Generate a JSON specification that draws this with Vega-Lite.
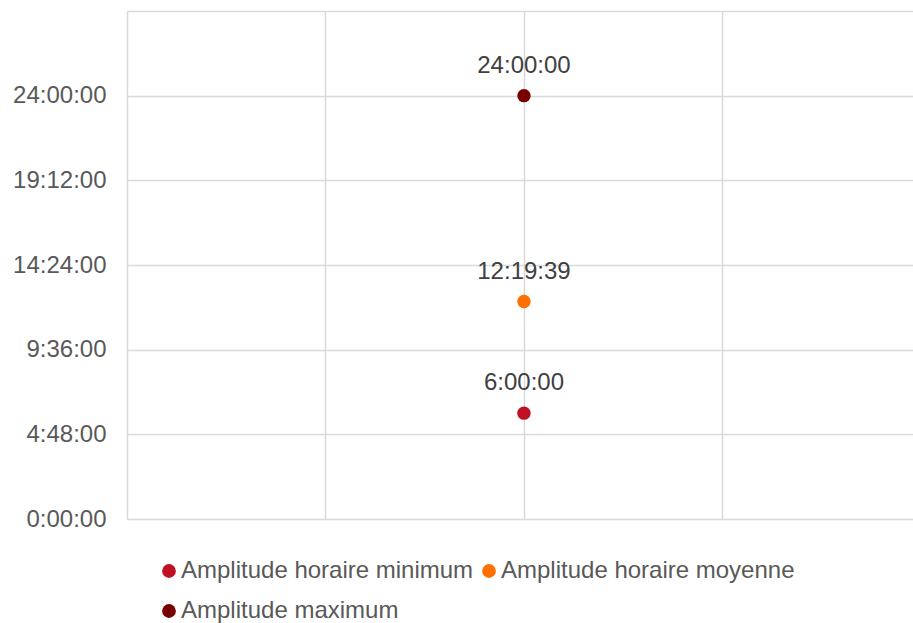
{
  "$schema": "https://vega.github.io/schema/vega-lite/v6.json",
  "width": 786,
  "height": 508,
  "autosize": {"type": "none"},
  "padding": {"left": 127, "top": 11, "right": 0, "bottom": 104},
  "background": "white",
  "config": {
    "view": {"stroke": null},
    "font": "Liberation Sans"
  },
  "data": {
    "values": [
      {"x": 1, "hours": 6.0, "label": "6:00:00", "serie": "Amplitude horaire minimum"},
      {"x": 1, "hours": 12.3275, "label": "12:19:39", "serie": "Amplitude horaire moyenne"},
      {"x": 1, "hours": 24.0, "label": "24:00:00", "serie": "Amplitude maximum"}
    ]
  },
  "encoding": {
    "x": {
      "field": "x",
      "type": "quantitative",
      "scale": {"domain": [0, 1.98], "nice": false, "zero": false},
      "axis": {
        "values": [0, 0.5, 1, 1.5],
        "labels": false,
        "ticks": false,
        "domain": false,
        "title": null,
        "grid": true,
        "gridColor": "#d9d9d9",
        "gridWidth": 1.5
      }
    },
    "y": {
      "field": "hours",
      "type": "quantitative",
      "scale": {"domain": [0, 28.8], "nice": false},
      "axis": {
        "values": [0, 4.8, 9.6, 14.4, 19.2, 24, 28.8],
        "labelExpr": "datum.value > 25 ? '' : floor(round(datum.value*3600)/3600) + ':' + (floor((round(datum.value*3600)%3600)/60) < 10 ? '0' : '') + floor((round(datum.value*3600)%3600)/60) + ':' + (round(datum.value*3600)%60 < 10 ? '0' : '') + round(datum.value*3600)%60",
        "ticks": false,
        "domain": false,
        "title": null,
        "grid": true,
        "gridColor": "#d9d9d9",
        "gridWidth": 1.5,
        "labelFontSize": 24,
        "labelColor": "#595959",
        "labelPadding": 21,
        "labelFont": "Liberation Sans"
      }
    }
  },
  "layer": [
    {
      "mark": {"type": "circle", "size": 180, "opacity": 1},
      "encoding": {
        "color": {
          "field": "serie",
          "type": "nominal",
          "scale": {
            "domain": ["Amplitude horaire minimum", "Amplitude horaire moyenne", "Amplitude maximum"],
            "range": ["#BE1020", "#FF7000", "#780000"]
          },
          "legend": {
            "title": null,
            "orient": "none",
            "legendX": 30,
            "legendY": 548,
            "direction": "horizontal",
            "columns": 2,
            "columnPadding": 3,
            "rowPadding": 16,
            "symbolType": "circle",
            "symbolSize": 190,
            "symbolOpacity": 1,
            "labelFontSize": 24,
            "labelColor": "#595959",
            "labelFont": "Liberation Sans",
            "labelOffset": 0,
            "labelLimit": 500
          }
        }
      }
    },
    {
      "mark": {"type": "text", "fontSize": 24, "color": "#404040", "dy": -23, "baseline": "alphabetic", "align": "center", "font": "Liberation Sans"},
      "encoding": {"text": {"field": "label"}}
    }
  ]
}
